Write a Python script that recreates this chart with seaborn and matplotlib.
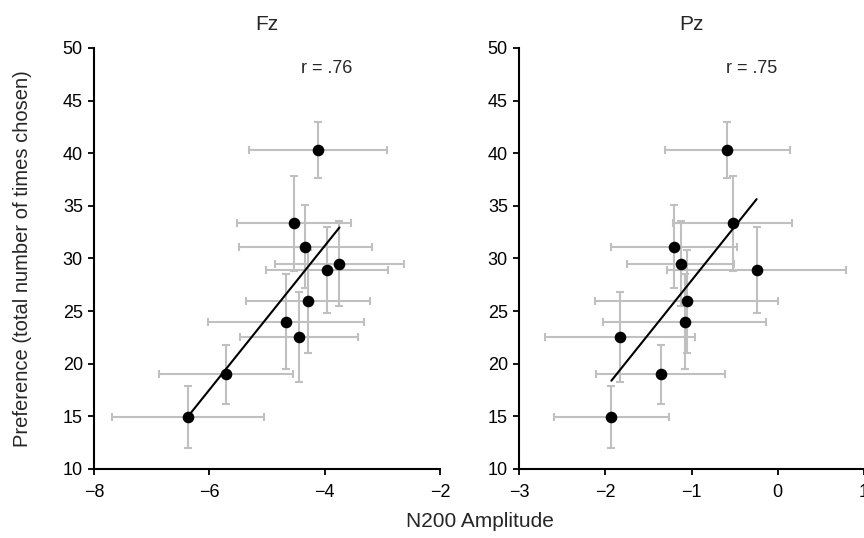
import matplotlib
matplotlib.use("Agg")
import matplotlib.pyplot as plt
import seaborn as sns
import numpy as np
import pandas as pd

# preference scores are shared by both electrodes
preference = [40.3, 33.35, 31.1, 28.9, 29.5, 25.95, 24.0, 22.55, 19.0, 14.95]
preference_err = [2.7, 4.5, 3.95, 4.05, 4.05, 4.9, 4.5, 4.3, 2.8, 2.95]

fz_amp = [-4.12, -4.534, -4.338, -3.957, -3.744, -4.292, -4.672, -4.448, -5.716, -6.374]
fz_err = [1.2, 0.99, 1.15, 1.06, 1.12, 1.08, 1.36, 1.02, 1.16, 1.32]

pz_amp = [-0.584, -0.522, -1.20, -0.245, -1.123, -1.054, -1.081, -1.825, -1.358, -1.929]
pz_err = [0.727, 0.69, 0.73, 1.04, 0.62, 1.06, 0.95, 0.87, 0.746, 0.667]

panels = [
    ("Fz", fz_amp, fz_err, "r = .76", (-8, -2), [-8, -6, -4, -2]),
    ("Pz", pz_amp, pz_err, "r = .75", (-3, 1), [-3, -2, -1, 0, 1]),
]

sns.set_style("ticks")
plt.rcParams["font.family"] = ["Liberation Sans", "DejaVu Sans"]

fig = plt.figure(figsize=(8.64, 5.38), dpi=100)
axes = [fig.add_axes([0.1088, 0.1283, 0.4005, 0.7825]),
        fig.add_axes([0.6007, 0.1283, 0.3993, 0.7825])]

for ax, (title, amp, err, rtext, xlim, xticks) in zip(axes, panels):
    df = pd.DataFrame({"amp": amp, "pref": preference})
    ax.errorbar(amp, preference, xerr=err, yerr=preference_err, fmt="none",
                ecolor="#c0c0c0", elinewidth=1.5, capsize=3, capthick=1.5, zorder=1)
    sns.regplot(data=df, x="amp", y="pref", ax=ax, scatter=False, ci=None,
                truncate=True, color="black", line_kws={"linewidth": 1.5, "zorder": 2})
    sns.scatterplot(data=df, x="amp", y="pref", ax=ax, color="black", s=70,
                    edgecolor="black", linewidth=0, zorder=3)
    ax.set_xlim(*xlim)
    ax.set_ylim(10, 50)
    ax.set_xticks(xticks)
    ax.set_yticks(np.arange(10, 51, 5))
    ax.set_xlabel("")
    ax.set_ylabel("")
    ax.set_title(title, fontsize=15, pad=13)
    ax.text(0.673, 0.952, rtext, transform=ax.transAxes, ha="center", va="center",
            fontsize=13)
    for side in ["left", "bottom"]:
        ax.spines[side].set_linewidth(1.5)
        ax.spines[side].set_color("black")
    sns.despine(ax=ax)
    ax.tick_params(axis="both", labelsize=13, width=1.3, length=4.5, color="black",
                   labelcolor="black")
    ax.tick_params(axis="x", pad=6)

fig.text(0.026, 0.52, "Preference (total number of times chosen)", rotation=90,
         ha="center", va="center", fontsize=14.5)
fig.text(0.556, 0.03, "N200 Amplitude", ha="center", va="center", fontsize=15)

fig.savefig("out.png", dpi=100)
